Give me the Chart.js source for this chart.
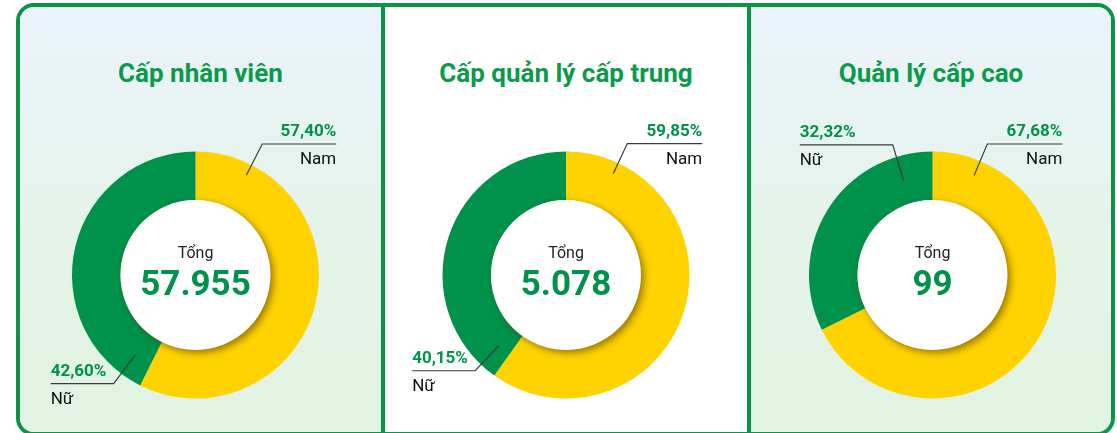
<!DOCTYPE html>
<html>
<head>
<meta charset="utf-8">
<script src="https://cdn.jsdelivr.net/npm/chart.js@4.4.1/dist/chart.umd.min.js"></script>
<style>
  html, body { margin: 0; padding: 0; background: #fff; }
  body { width: 1117px; height: 433px; overflow: hidden; position: relative; font-family: Roboto, 'Noto Sans', sans-serif; }
  .frame {
    position: absolute; left: 16px; top: 3px; width: 1091px; height: 425px;
    border: 4px solid #0a9447; border-radius: 18px; overflow: hidden;
    display: flex;
  }
  .panel { position: relative; height: 425px; flex: none; }
  .panel.tint { background: linear-gradient(180deg, #ebf3fb 0%, #e4f4e8 60%, #e1f3e2 100%); }
  .panel.plain { background: #fff; }
  .panel + .panel { border-left: 4px solid #0a9447; }
  .title {
    position: absolute; left: 0; right: 0; top: 51px; text-align: center;
    font-size: 26px; font-weight: 700; color: #0b9a4b; line-height: 30px;
  }
  .panel canvas { position: absolute; left: 0; top: 0; }
</style>
</head>
<body>
<div class="frame">
  <div class="panel tint" style="width:361px"><div class="title" id="t0"></div><canvas id="c0"></canvas></div>
  <div class="panel plain" style="width:362px"><div class="title" id="t1"></div><canvas id="c1"></canvas></div>
  <div class="panel tint" style="width:360px"><div class="title" id="t2"></div><canvas id="c2"></canvas></div>
</div>
<script>
// --- data ---
const levels = ['Cấp nhân viên', 'Cấp quản lý cấp trung', 'Quản lý cấp cao'];
const genders = ['Nam', 'Nữ'];
const malePct = [57.40, 59.85, 67.68];
const femalePct = [42.60, 40.15, 32.32];
const totals = [57955, 5078, 99];

// --- layout (per panel): donut centre x, and where each callout sits ---
const panelWidths = [361, 362, 360];
const centreX = [175.5, 181, 181.5];
const centreY = 268;
const radius = 123.5;
const callouts = [
  [{ angle: 27, elbow: 147, tip: 112, len: 74, side: 'right' }, { angle: 217, elbow: 136, tip: 100, len: 63, side: 'left' }],
  [{ angle: 25, elbow: 145, tip: 112, len: 75, side: 'right' }, { angle: 223.5, elbow: 132, tip: 97, len: 63, side: 'left' }],
  [{ angle: 22.7, elbow: 142, tip: 108, len: 75, side: 'right' }, { angle: 343, elbow: 136, tip: 99, len: 93, side: 'left' }],
];

const GREEN = '#00914a';
const YELLOW = '#ffd300';
const FONT = 'Roboto, "Noto Sans", sans-serif';

const fmtPct = v => v.toFixed(2).replace('.', ',') + '%';
const fmtTotal = v => String(v).replace(/\B(?=(\d{3})+(?!\d))/g, '.');

// white centre disc with soft shadow, plus "Tổng" and the total
const centrePlugin = {
  id: 'centre',
  afterDatasetsDraw(chart, args, opts) {
    const arc = chart.getDatasetMeta(0).data[0];
    const { x, y, innerRadius } = arc;
    const ctx = chart.ctx;
    ctx.save();
    ctx.shadowColor = 'rgba(70,50,0,0.55)';
    ctx.shadowBlur = 7;
    ctx.shadowOffsetX = 3;
    ctx.shadowOffsetY = 3;
    ctx.fillStyle = '#fff';
    ctx.beginPath();
    ctx.arc(x, y, innerRadius, 0, Math.PI * 2);
    ctx.fill();
    ctx.restore();

    ctx.save();
    ctx.textAlign = 'center';
    ctx.textBaseline = 'alphabetic';
    ctx.fillStyle = '#222';
    ctx.font = '16px ' + FONT;
    ctx.fillText('Tổng', x, y - 17);
    ctx.fillStyle = GREEN;
    ctx.font = 'bold 35px ' + FONT;
    ctx.fillText(fmtTotal(opts.total), x, y + 20);
    ctx.restore();
  }
};

// callout labels: leader line pointing at the ring, shelf line, % above, name below
const calloutPlugin = {
  id: 'callouts',
  afterDraw(chart, args, opts) {
    const meta = chart.getDatasetMeta(0);
    const ctx = chart.ctx;
    meta.data.forEach((arc, i) => {
      const c = opts.items[i];
      const a = c.angle * Math.PI / 180;
      const ex = arc.x + Math.sin(a) * c.elbow, ey = arc.y - Math.cos(a) * c.elbow;
      const tx = arc.x + Math.sin(a) * c.tip, ty = arc.y - Math.cos(a) * c.tip;
      const sx = c.side === 'right' ? ex + c.len : ex - c.len;
      ctx.save();
      ctx.strokeStyle = '#3a3a3a';
      ctx.lineWidth = 1.2;
      ctx.beginPath();
      ctx.moveTo(tx, ty);
      ctx.lineTo(ex, ey);
      ctx.lineTo(sx, ey);
      ctx.stroke();
      ctx.textAlign = c.side === 'right' ? 'right' : 'left';
      ctx.textBaseline = 'alphabetic';
      ctx.fillStyle = GREEN;
      ctx.font = 'bold 17px ' + FONT;
      ctx.fillText(fmtPct(chart.data.datasets[0].data[i]), sx, ey - 8);
      ctx.fillStyle = '#111';
      ctx.font = '17px ' + FONT;
      ctx.fillText(chart.data.labels[i], sx, ey + 20);
      ctx.restore();
    });
  }
};

levels.forEach((name, k) => {
  document.getElementById('t' + k).textContent = name;
  const cv = document.getElementById('c' + k);
  cv.width = panelWidths[k];
  cv.height = 425;
  const left = centreX[k] - radius;
  const right = panelWidths[k] - centreX[k] - radius;
  const top = centreY - radius;
  const bottom = 425 - centreY - radius;

  new Chart(cv, {
    type: 'doughnut',
    data: {
      labels: genders,
      datasets: [{
        data: [malePct[k], femalePct[k]],
        backgroundColor: [YELLOW, GREEN],
        borderWidth: 0,
        hoverOffset: 0,
        offset: 0,
      }]
    },
    options: {
      responsive: false,
      animation: false,
      cutout: '60.7%',
      layout: { padding: { left, right, top, bottom } },
      events: [],
      plugins: {
        legend: { display: false },
        tooltip: { enabled: false },
        centre: { total: totals[k] },
        callouts: { items: callouts[k] },
      }
    },
    plugins: [centrePlugin, calloutPlugin]
  });
});
</script>
</body>
</html>
